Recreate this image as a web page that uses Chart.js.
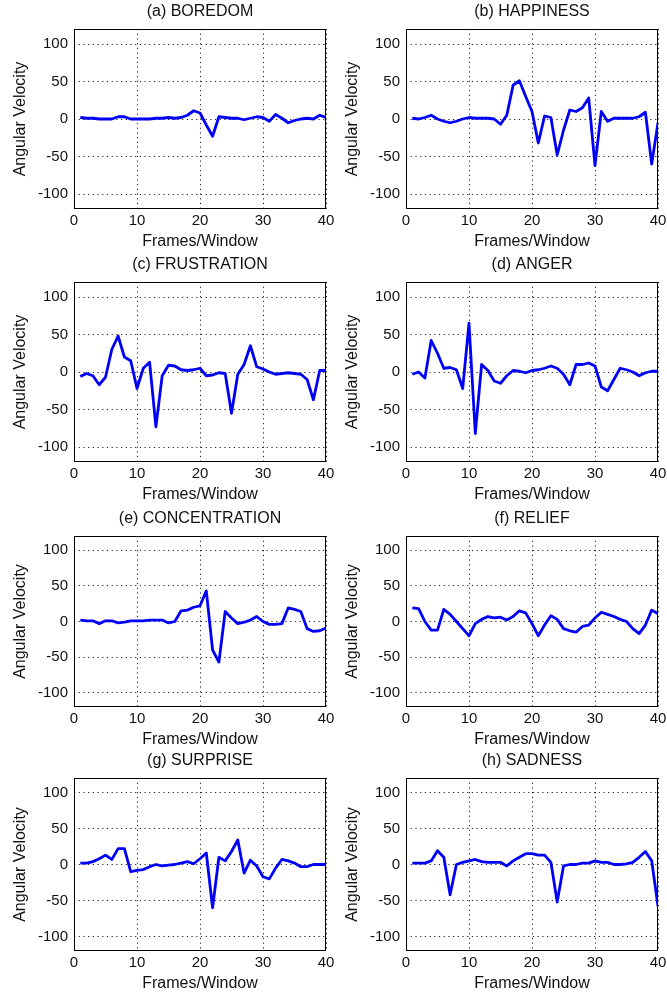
<!DOCTYPE html>
<html>
<head>
<meta charset="utf-8">
<script src="https://cdn.jsdelivr.net/npm/chart.js@4.4.0/dist/chart.umd.min.js"></script>
<style>
  body { margin: 0; background: #fff; }
  #wrap { position: relative; width: 667px; height: 995px; overflow: hidden; }
  .panel { position: absolute; }
</style>
</head>
<body>
<div id="wrap"></div>
<script>
// frame index (x) and axis ticks
const frames = [1,2,3,4,5,6,7,8,9,10,11,12,13,14,15,16,17,18,19,20,21,22,23,24,25,26,27,28,29,30,31,32,33,34,35,36,37,38,39,40];
const xTicks = [0, 10, 20, 30, 40];
const yTicks = [-100, -50, 0, 50, 100];

const titles = ['(a) BOREDOM', '(b) HAPPINESS', '(c) FRUSTRATION', '(d) ANGER',
                '(e) CONCENTRATION', '(f) RELIEF', '(g) SURPRISE', '(h) SADNESS'];

// angular velocity per frame
const boredom = [2,1,1,0,0,0,3,3,0,0, 0,0,1,1,2,1,2,5,11,8, -8,-23,3,2,1,1,-1,1,3,2, -3,6,1,-5,-2,0,1,0,5,2];
const happiness = [1,0,2,5,0,-3,-5,-3,0,2, 1,1,1,0,-7,5,45,51,30,10, -32,4,2,-48,-15,12,10,15,28,-62, 10,-3,1,1,1,1,3,9,-60,-5];
const frustration = [-6,-2,-5,-17,-7,30,48,20,15,-22, 5,13,-73,-5,9,8,3,2,3,5, -5,-4,-1,-2,-55,-3,10,35,7,4, 0,-3,-2,-1,-2,-3,-10,-37,2,2];
const anger = [-3,0,-8,42,25,5,6,3,-22,65, -82,10,2,-12,-15,-5,2,1,-1,2, 3,5,8,5,-3,-17,10,10,12,8, -20,-25,-10,5,3,0,-5,-1,1,1];
const concentration = [2,1,1,-3,1,1,-2,-1,1,1, 1,2,2,2,-2,0,15,16,20,22, 43,-40,-57,14,5,-3,-1,2,7,0, -4,-4,-3,19,17,14,-10,-14,-13,-9];
const relief = [19,18,0,-12,-12,17,10,0,-10,-20, -3,3,7,5,6,2,7,15,12,-3, -20,-5,8,3,-10,-13,-15,-7,-5,5, 13,10,7,3,0,-10,-17,-5,16,11];
const surprise = [2,2,4,8,13,7,22,22,-10,-8, -7,-3,0,-2,-1,0,2,4,1,8, 16,-60,10,5,18,34,-12,6,-2,-17, -20,-5,7,5,2,-3,-3,0,0,0];
const sadness = [2,2,2,5,19,10,-42,0,3,5, 7,4,3,3,3,-2,5,10,15,15, 13,13,3,-52,-2,0,0,2,2,5, 3,3,0,0,1,3,10,18,5,-58];

const series = [boredom, happiness, frustration, anger, concentration, relief, surprise, sadness];

// page layout: plot-area edges per column / row
const colPlot = [[74, 326], [406, 658]];
const rowPlot = [[29, 209], [282, 462], [536, 707], [778, 951]];
const AXIS_W = 74, TITLE_H = 29, XAXIS_H = 43, PAD_R = 9;

const FONT = 'Liberation Sans, Arial, Helvetica, sans-serif';
const INK = '#111';

// MATLAB-style box round the axes
const framePlugin = {
  id: 'frame',
  beforeDatasetsDraw(chart) {
    const { ctx, chartArea: a } = chart;
    ctx.save();
    ctx.strokeStyle = '#000';
    ctx.lineWidth = 1;
    ctx.strokeRect(a.left + 0.5, a.top + 0.5, a.right - a.left - 1, a.bottom - a.top - 1);
    ctx.restore();
  }
};

const wrap = document.getElementById('wrap');

series.forEach((vals, i) => {
  const r = Math.floor(i / 2), c = i % 2;
  const left = colPlot[c][0] - AXIS_W;
  const top = rowPlot[r][0] - TITLE_H;
  const width = colPlot[c][1] + PAD_R - left;
  const height = rowPlot[r][1] + XAXIS_H - top;

  const div = document.createElement('div');
  div.className = 'panel';
  div.style.left = left + 'px';
  div.style.top = top + 'px';
  div.style.width = width + 'px';
  div.style.height = height + 'px';
  const canvas = document.createElement('canvas');
  div.appendChild(canvas);
  wrap.appendChild(div);

  new Chart(canvas.getContext('2d'), {
    type: 'line',
    data: {
      datasets: [{
        data: vals.map((v, k) => ({ x: frames[k], y: v })),
        borderColor: 'rgb(0, 0, 245)',
        borderWidth: 2.8,
        borderJoinStyle: 'round',
        pointRadius: 0,
        tension: 0,
        fill: false
      }]
    },
    options: {
      responsive: true,
      maintainAspectRatio: false,
      animation: false,
      layout: { padding: { left: 0, right: PAD_R, top: 0, bottom: 0 } },
      plugins: {
        legend: { display: false },
        tooltip: { enabled: false },
        title: {
          display: true,
          fullSize: false,
          text: titles[i],
          color: INK,
          font: { size: 16, weight: 'normal', family: FONT },
          padding: { top: 1.7, bottom: 8.1 }
        }
      },
      scales: {
        x: {
          type: 'linear',
          min: 0,
          max: 40,
          afterBuildTicks: s => { s.ticks = xTicks.map(v => ({ value: v })); },
          afterFit: s => { s.height = XAXIS_H; s.paddingLeft = 0; s.paddingRight = 0; },
          grid: { color: '#222', lineWidth: 1, drawTicks: false },
          border: { display: false, dash: [1.2, 3.5] },
          ticks: { color: INK, font: { size: 15, family: FONT }, padding: 3, maxRotation: 0, autoSkip: false },
          title: { display: true, text: 'Frames/Window', color: INK, font: { size: 16, family: FONT }, padding: { top: 0, bottom: 0.4 } }
        },
        y: {
          min: -120,
          max: 120,
          afterBuildTicks: s => { s.ticks = yTicks.map(v => ({ value: v })); },
          afterFit: s => { s.width = AXIS_W; s.paddingTop = 0; s.paddingBottom = 0; },
          grid: { color: '#222', lineWidth: 1, drawTicks: false },
          border: { display: false, dash: [1.2, 3.5] },
          ticks: { color: INK, font: { size: 15, family: FONT }, padding: 6 },
          title: { display: true, text: 'Angular Velocity', color: INK, font: { size: 16, family: FONT }, padding: { top: 11, bottom: 0 } }
        }
      }
    },
    plugins: [framePlugin]
  });
});
</script>
</body>
</html>
